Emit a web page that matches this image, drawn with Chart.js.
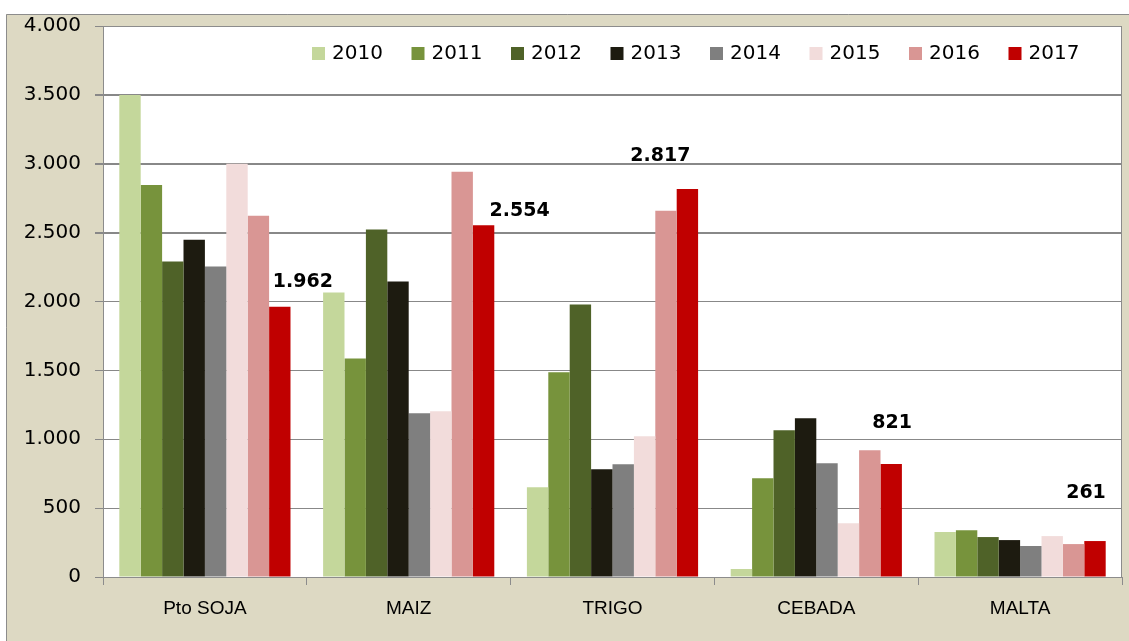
<!DOCTYPE html>
<html>
<head>
<meta charset="utf-8">
<script src="https://cdn.jsdelivr.net/npm/chart.js@4/dist/chart.umd.min.js"></script>
<style>
  html, body { margin: 0; padding: 0; background: #fff; }
  canvas { display: block; }
</style>
</head>
<body>
<canvas id="chart" width="1129" height="641"></canvas>
<script>
const categories = ['Pto SOJA', 'MAIZ', 'TRIGO', 'CEBADA', 'MALTA'];
const years = ['2010', '2011', '2012', '2013', '2014', '2015', '2016', '2017'];

const v2010 = [3500, 2065, 652, 58, 326];
const v2011 = [2845, 1587, 1486, 717, 340];
const v2012 = [2290, 2522, 1978, 1065, 290];
const v2013 = [2449, 2145, 783, 1152, 268];
const v2014 = [2254, 1188, 819, 826, 225];
const v2015 = [3000, 1203, 1022, 391, 297];
const v2016 = [2623, 2942, 2659, 920, 239];
const v2017 = [1962, 2554, 2817, 821, 261];

const yTickLabels = ['0', '500', '1.000', '1.500', '2.000', '2.500', '3.000', '3.500', '4.000'];

const colors = ['#C4D79B', '#77933C', '#4F6228', '#1D1B10', '#7F7F7F', '#F2DCDB', '#D99694', '#C00000'];
const series = [v2010, v2011, v2012, v2013, v2014, v2015, v2016, v2017];

function fmt(n) {
  return String(n).replace(/\B(?=(\d{3})+(?!\d))/g, '.');
}

const frame = {
  id: 'frame',
  beforeDraw(chart) {
    const {ctx, chartArea: a} = chart;
    ctx.save();
    ctx.fillStyle = '#fff';
    ctx.fillRect(0, 0, chart.width, chart.height);
    ctx.fillStyle = '#DDD9C3';
    ctx.fillRect(6, 14, chart.width - 6, chart.height - 14);
    ctx.strokeStyle = '#8c8c8c';
    ctx.lineWidth = 1;
    ctx.beginPath();
    ctx.moveTo(6.5, chart.height);
    ctx.lineTo(6.5, 14.5);
    ctx.lineTo(chart.width, 14.5);
    ctx.stroke();
    ctx.fillStyle = '#fff';
    ctx.fillRect(a.left, a.top, a.right - a.left, a.bottom - a.top);
    ctx.restore();
  },
  afterDraw(chart) {
    const {ctx, chartArea: a} = chart;
    ctx.save();
    ctx.strokeStyle = '#8c8c8c';
    ctx.lineWidth = 1;
    ctx.beginPath();
    ctx.moveTo(a.left, a.top + 0.5);
    ctx.lineTo(a.right - 0.5, a.top + 0.5);
    ctx.lineTo(a.right - 0.5, a.bottom);
    ctx.stroke();
    ctx.restore();
  }
};

// legend drawn inside the plot, one row
const legendRow = {
  id: 'legendRow',
  afterDraw(chart) {
    const {ctx} = chart;
    ctx.save();
    ctx.font = '20px "DejaVu Sans"';
    ctx.textBaseline = 'middle';
    chart.data.datasets.forEach((ds, i) => {
      const x = 312 + i * 99.5;
      ctx.fillStyle = ds.backgroundColor;
      ctx.fillRect(x, 47, 13, 13);
      ctx.fillStyle = '#000';
      ctx.fillText(ds.label, x + 20, 54);
    });
    ctx.restore();
  }
};

// value labels on the 2017 series
const lastLabels = {
  id: 'lastLabels',
  afterDatasetsDraw(chart) {
    const {ctx} = chart;
    const idx = chart.data.datasets.length - 1;
    const meta = chart.getDatasetMeta(idx);
    const shift = [[23, -25], [36, -14], [-27, -33], [1, -41], [-9, -48]];
    ctx.save();
    ctx.font = 'bold 19px "DejaVu Sans"';
    ctx.fillStyle = '#000';
    ctx.textAlign = 'center';
    ctx.textBaseline = 'middle';
    meta.data.forEach((bar, i) => {
      const v = chart.data.datasets[idx].data[i];
      ctx.fillText(fmt(v), bar.x + shift[i][0], bar.y + shift[i][1]);
    });
    ctx.restore();
  }
};

new Chart(document.getElementById('chart'), {
  type: 'bar',
  data: {
    labels: categories,
    datasets: years.map((y, i) => ({
      label: y,
      data: series[i],
      backgroundColor: colors[i],
      borderWidth: 0,
      categoryPercentage: 0.84,
      barPercentage: 1.0
    }))
  },
  options: {
    responsive: false,
    animation: false,
    layout: {padding: {top: 25, right: 7, left: 0, bottom: 0}},
    plugins: {
      legend: {display: false},
      tooltip: {enabled: false}
    },
    scales: {
      x: {
        afterFit: s => { s.height = 64; },
        grid: {
          offset: true,
          drawOnChartArea: false,
          drawTicks: true,
          tickLength: 8,
          color: '#8c8c8c'
        },
        border: {color: '#8c8c8c', width: 1},
        ticks: {
          color: '#000',
          padding: 12,
          font: {family: '"Liberation Sans"', size: 19}
        }
      },
      y: {
        min: 0,
        max: 4000,
        afterFit: s => { s.width = 103; },
        grid: {
          color: '#888',
          lineWidth: c => (c.tick && c.tick.value >= 2500 && c.tick.value < 4000 ? 2 : 1),
          drawTicks: true,
          tickLength: 8
        },
        border: {color: '#8c8c8c', width: 1},
        ticks: {
          stepSize: 500,
          color: '#000',
          padding: 14,
          font: {family: '"DejaVu Sans"', size: 20},
          callback: v => yTickLabels[v / 500]
        }
      }
    }
  },
  plugins: [frame, legendRow, lastLabels]
});
</script>
</body>
</html>
